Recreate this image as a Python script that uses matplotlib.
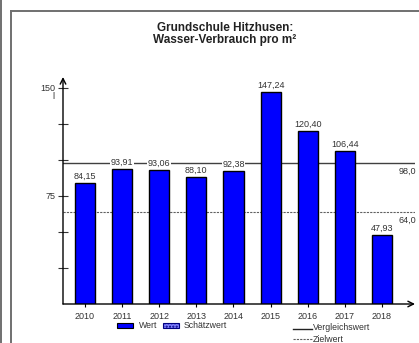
import matplotlib
matplotlib.use("Agg")
import matplotlib.pyplot as plt
from matplotlib.lines import Line2D
from matplotlib.patches import Rectangle

plt.rcParams['font.family'] = ['Liberation Sans', 'DejaVu Sans']

years = ["2010", "2011", "2012", "2013", "2014", "2015", "2016", "2017", "2018"]
values = [84.15, 93.91, 93.06, 88.10, 92.38, 147.24, 120.40, 106.44, 47.93]
value_labels = ["84,15", "93,91", "93,06", "88,10", "92,38", "147,24", "120,40", "106,44", "47,93"]
vergleichswert = 98.0
zielwert = 64.0
ytick_vals = [25, 50, 75, 100, 125, 150]
ytick_labels = {75: "75", 150: "150"}
title = "Grundschule Hitzhusen:\nWasser-Verbrauch pro m²"

W, H = 419, 343
fig = plt.figure(figsize=(W / 100, H / 100), dpi=100)

def fx(px):
    return px / W

def fy(py):
    return 1 - py / H

# frame lines
grey = "#707070"
fig.add_artist(Line2D([fx(1), fx(1)], [0, 1], color=grey, lw=1.4))
fig.add_artist(Line2D([fx(11), fx(11)], [0, fy(11)], color=grey, lw=1.4))
fig.add_artist(Line2D([fx(11), 1], [fy(11), fy(11)], color=grey, lw=1.4))

# axes
x0, x1 = 63, 415
y0, y1 = 304, 77
ax = fig.add_axes([fx(x0), fy(y0), (x1 - x0) / W, (y0 - y1) / H])
ax.set_xlim(-0.593, 8.89)
ax.set_ylim(0, 157.6)
for s in ax.spines.values():
    s.set_visible(False)
ax.patch.set_alpha(0)

xs = list(range(len(years)))
ax.bar(xs, values, width=0.54, color="#0000FF", edgecolor="black", linewidth=1.0, zorder=3)

ax.axhline(vergleichswert, color="#404040", lw=1.0, zorder=2)
ax.axhline(zielwert, color="#606060", lw=0.8, ls=(0, (2, 1)), zorder=2)
ax.text(8.92, vergleichswert - 2.5, "98,0", ha="right", va="top", fontsize=6.5, color="#333333")
ax.text(8.92, zielwert - 2.5, "64,0", ha="right", va="top", fontsize=6.5, color="#333333")

for x, v, lab in zip(xs, values, value_labels):
    ax.text(x, v + 1.5, lab, ha="center", va="bottom", fontsize=6.5, color="#333333",
            bbox=dict(facecolor="white", edgecolor="none", pad=0.3), zorder=4)

# axis arrows
ax.annotate("", xy=(0, 1.0), xytext=(0, 0), xycoords="axes fraction",
            arrowprops=dict(arrowstyle="->", color="black", lw=1.0, shrinkA=0, shrinkB=0))
ax.annotate("", xy=(1.0, 0), xytext=(0, 0), xycoords="axes fraction",
            arrowprops=dict(arrowstyle="->", color="black", lw=1.0, shrinkA=0, shrinkB=0))

ax.set_yticks(ytick_vals)
ax.set_yticklabels([ytick_labels.get(v, "") for v in ytick_vals], fontsize=6.5, color="#333333")
ax.tick_params(axis="y", direction="inout", length=7, width=0.8, pad=2, colors="#333333", labelcolor="#333333")
ax.set_xticks(xs)
ax.set_xticklabels(years, fontsize=6.5, color="#333333")
ax.tick_params(axis="x", direction="inout", length=5, width=0.8, pad=3)
ax.text(-0.025, 147, "l", transform=ax.get_yaxis_transform(), ha="right", va="top", fontsize=6.5, color="#333333")

fig.text(fx(225), fy(34), title, ha="center", va="center", fontsize=8.5, fontweight="bold",
         color="#222222", linespacing=1.1)

# legend
fig.add_artist(Rectangle((fx(117), fy(328)), 16 / W, 5 / H, facecolor="#0000FF", edgecolor="black", lw=0.8))
fig.text(fx(139), fy(326), "Wert", ha="left", va="center", fontsize=6.3, color="#333333")
fig.add_artist(Rectangle((fx(163), fy(328)), 16 / W, 5 / H, facecolor="#8080FF", edgecolor="#000080",
                         lw=0.8, hatch="....."))
fig.text(fx(184), fy(326), "Schätzwert", ha="left", va="center", fontsize=6.3, color="#333333")
fig.add_artist(Line2D([fx(293), fx(312)], [fy(329), fy(329)], color="#222222", lw=1.0))
fig.text(fx(313), fy(328), "Vergleichswert", ha="left", va="center", fontsize=6.3, color="#333333")
fig.add_artist(Line2D([fx(293), fx(312)], [fy(339), fy(339)], color="#606060", lw=0.8, ls=(0, (2, 1))))
fig.text(fx(313), fy(339), "Zielwert", ha="left", va="center", fontsize=6.3, color="#333333")

fig.savefig("out.png", dpi=100)
